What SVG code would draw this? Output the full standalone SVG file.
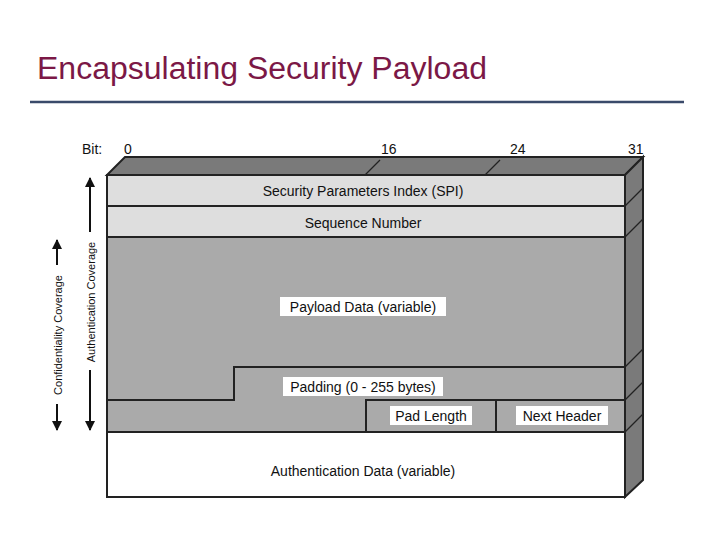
<svg xmlns="http://www.w3.org/2000/svg" width="720" height="540" viewBox="0 0 720 540">
<style>
text{font-family:"Liberation Sans",Arial,sans-serif}
.l{font-size:14px;fill:#111;text-anchor:middle}
.s{stroke:#222;stroke-width:2}
.t{stroke:#222;stroke-width:1.3;fill:none}
</style>
<defs>
<marker id="ah" viewBox="0 0 10 10" refX="9" refY="5" markerWidth="5" markerHeight="5" orient="auto"><path d="M0,0L10,5L0,10z" fill="#111"/></marker>
</defs>
<rect width="720" height="540" fill="#fff"/>
<text x="37" y="79" font-size="31" fill="#7b1846" textLength="450" lengthAdjust="spacingAndGlyphs">Encapsulating Security Payload</text>
<line x1="30" y1="102" x2="684" y2="102" stroke="#3a4a6a" stroke-width="2.5"/>
<g id="bits" font-size="14" fill="#111">
<text x="82" y="154">Bit:</text><text x="124" y="154">0</text><text x="381" y="154">16</text><text x="510" y="154">24</text><text x="628" y="154">31</text>
</g>
<g id="frame">
<polygon points="107,175 125,157 643,157 625,175" fill="#7a7a7a" class="s"/>
<polygon points="625,175 643,157 643,480 625,497" fill="#7a7a7a" class="s"/>
<path class="t" d="M365,175L380,160M485,175L500,160M625,206L643,188M625,237L643,219M625,367L643,349M625,400L643,382M625,432L643,414"/>
</g>
<g id="spi"><rect x="107" y="175" width="518" height="31" fill="#dedede" class="s"/><text class="l" x="363" y="196">Security Parameters Index (SPI)</text></g>
<g id="seq"><rect x="107" y="206" width="518" height="31" fill="#dedede" class="s"/><text class="l" x="363" y="228">Sequence Number</text></g>
<g id="payload"><rect x="107" y="237" width="518" height="195" fill="#aaaaaa" class="s"/>
<rect x="280" y="297" width="166" height="19" fill="#fff"/><text class="l" x="363" y="312">Payload Data (variable)</text></g>
<g id="padding"><path class="s" fill="none" d="M107,400H234V367H625"/>
<rect x="283" y="377" width="160" height="19" fill="#fff"/><text class="l" x="363" y="392">Padding (0 - 255 bytes)</text></g>
<g id="padlen"><path class="s" fill="none" d="M366,432V400H625M496,400V432"/>
<rect x="390" y="406" width="82" height="19" fill="#fff"/><text class="l" x="431" y="421">Pad Length</text></g>
<g id="nexthdr"><rect x="516" y="406" width="92" height="19" fill="#fff"/><text class="l" x="562" y="421">Next Header</text></g>
<g id="auth"><rect x="107" y="432" width="518" height="65" fill="#fff" class="s"/><text class="l" x="363" y="476">Authentication Data (variable)</text></g>
<g id="connectors" stroke="#111" stroke-width="2">
<line x1="90" y1="232" x2="90" y2="178" marker-end="url(#ah)"/>
<line x1="90" y1="370" x2="90" y2="430" marker-end="url(#ah)"/>
<line x1="57" y1="265" x2="57" y2="240" marker-end="url(#ah)"/>
<line x1="57" y1="404" x2="57" y2="430" marker-end="url(#ah)"/>
</g>
<text font-size="11" fill="#111" text-anchor="middle" transform="translate(95,302) rotate(-90)">Authentication Coverage</text>
<text font-size="11" fill="#111" text-anchor="middle" transform="translate(62,335) rotate(-90)">Confidentiality Coverage</text>
</svg>
